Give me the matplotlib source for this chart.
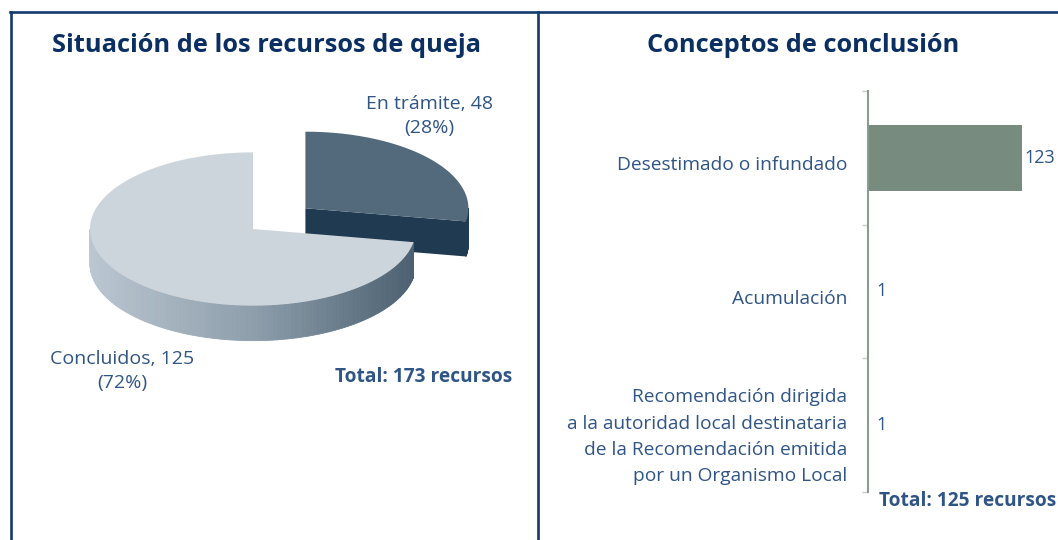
import matplotlib
matplotlib.use("Agg")
import matplotlib.pyplot as plt
import numpy as np
from matplotlib.lines import Line2D
from matplotlib.patches import Polygon
from matplotlib.colors import LinearSegmentedColormap

plt.rcParams["font.family"] = ["Open Sans", "DejaVu Sans"]

# datos
estado_nombres = ["En trámite", "Concluidos"]
estado_valores = [48, 125]
concepto_nombres = ["Desestimado o infundado", "Acumulación",
                    "Recomendación dirigida\na la autoridad local destinataria\nde la Recomendación emitida\npor un Organismo Local"]
concepto_valores = [123, 1, 1]

TITULO = "#0b2f63"; TEXTO = "#2f5486"; BORDE = "#143a6c"
W, H = 1058, 540
fig = plt.figure(figsize=(W / 100, H / 100), dpi=100)

def fx(px): return px / W
def fy(py): return 1 - py / H

# marco
for x0, y0, x1, y1 in [(10, 12, W, 12), (11, 12, 11, H), (538, 12, 538, H)]:
    fig.add_artist(Line2D([fx(x0), fx(x1)], [fy(y0), fy(y1)], color=BORDE, lw=1.9, transform=fig.transFigure))

fig.text(fx(266), fy(45), "Situación de los recursos de queja", ha="center", va="center", fontsize=18.3, fontweight="bold", color=TITULO)
fig.text(fx(803), fy(45), "Conceptos de conclusión", ha="center", va="center", fontsize=18.3, fontweight="bold", color=TITULO)

# ---- tarta 3D ----
K = 0.47; PROF = 0.215; ESCALA = 163
ax = fig.add_axes([fx(253 - 1.5 * ESCALA), fy(229 + ESCALA), 3 * ESCALA / W, 2 * ESCALA / H])
ax.set_xlim(-1.5, 1.5); ax.set_ylim(-1, 1); ax.axis("off")

total = sum(estado_valores)
fr = np.array(estado_valores) / total
lados = LinearSegmentedColormap.from_list("lado", ["#bac6d0", "#8e9eab", "#4a5f70"])
estilos = [dict(top="#526a7c", side=lambda x: "#1f3a51", exp=0.42),
           dict(top="#cdd5dc", side=lambda x: lados((x + 1) / 2), exp=0.0)]

def pt(t, dx, dy, z=0.0):
    return (dx + np.cos(t), dy + K * np.sin(t) - z)

inicio = np.pi / 2
for i, f in enumerate(fr):
    t1 = inicio; t2 = inicio - 2 * np.pi * f; inicio = t2
    s = estilos[i]; mid = (t1 + t2) / 2
    dx, dy = s["exp"] * np.cos(mid), s["exp"] * K * np.sin(mid)
    ts = np.linspace(t1, t2, 200)
    # caras radiales visibles
    for th, n in [(t2, (np.sin(t2), -np.cos(t2))), (t1, (-np.sin(t1), np.cos(t1)))]:
        if n[1] < -1e-6:
            p = [(dx, dy), pt(th, dx, dy), pt(th, dx, dy, PROF), (dx, dy - PROF)]
            ax.add_patch(Polygon(p, closed=True, fc=s["side"](np.cos(th)), ec="none"))
    # lateral exterior
    for a, b in zip(ts[:-1], ts[1:]):
        if np.sin((a + b) / 2) < 0:
            p = [pt(a, dx, dy), pt(b, dx, dy), pt(b, dx, dy, PROF), pt(a, dx, dy, PROF)]
            c = s["side"](np.cos((a + b) / 2))
            ax.add_patch(Polygon(p, closed=True, fc=c, ec=c, lw=0.6))
    cara = [(dx, dy)] + [pt(t, dx, dy) for t in ts]
    ax.add_patch(Polygon(cara, closed=True, fc=s["top"], ec="none"))

etq_pos = [(429, 116), (122, 371)]
for (px, py), n, v, f in zip(etq_pos, estado_nombres, estado_valores, fr):
    fig.text(fx(px), fy(py), f"{n}, {v}\n({f*100:.0f}%)", ha="center", va="center", fontsize=14, color=TEXTO, linespacing=1.45)
fig.text(fx(512), fy(377), f"Total: {total} recursos", ha="right", va="center", fontsize=13.8, fontweight="bold", color=TEXTO)

# ---- barras ----
bx = fig.add_axes([fx(868), fy(492), (W - 868) / W, 401 / H])
y = np.arange(len(concepto_valores))
bx.barh(y, concepto_valores, height=0.49, color="#778c7e")
bx.set_xlim(0, 190 / (154 / 123)); bx.set_ylim(2.5, -0.5)
for lado in ["top", "right", "bottom"]:
    bx.spines[lado].set_visible(False)
bx.spines["left"].set_color("#8a9b8f"); bx.spines["left"].set_linewidth(1.5)
bx.set_xticks([])
bx.set_yticks(y + 0.04); bx.set_yticklabels(concepto_nombres, fontsize=13.8, color=TEXTO, linespacing=1.6)
bx.tick_params(axis="y", which="major", length=0, pad=15)
bx.set_yticks([-0.5, 0.5, 1.5, 2.5], minor=True)
bx.tick_params(axis="y", which="minor", length=4, color="#c5ccc7", width=1)
for yi, v in zip(y, concepto_valores):
    bx.text(v + (2 if v > 100 else 6), yi, str(v), va="center", ha="left", fontsize=13, color=TEXTO)
fig.text(fx(879), fy(501), f"Total: {sum(concepto_valores)} recursos", ha="left", va="center", fontsize=13.8, fontweight="bold", color=TEXTO)

fig.savefig("out.png", dpi=100)
